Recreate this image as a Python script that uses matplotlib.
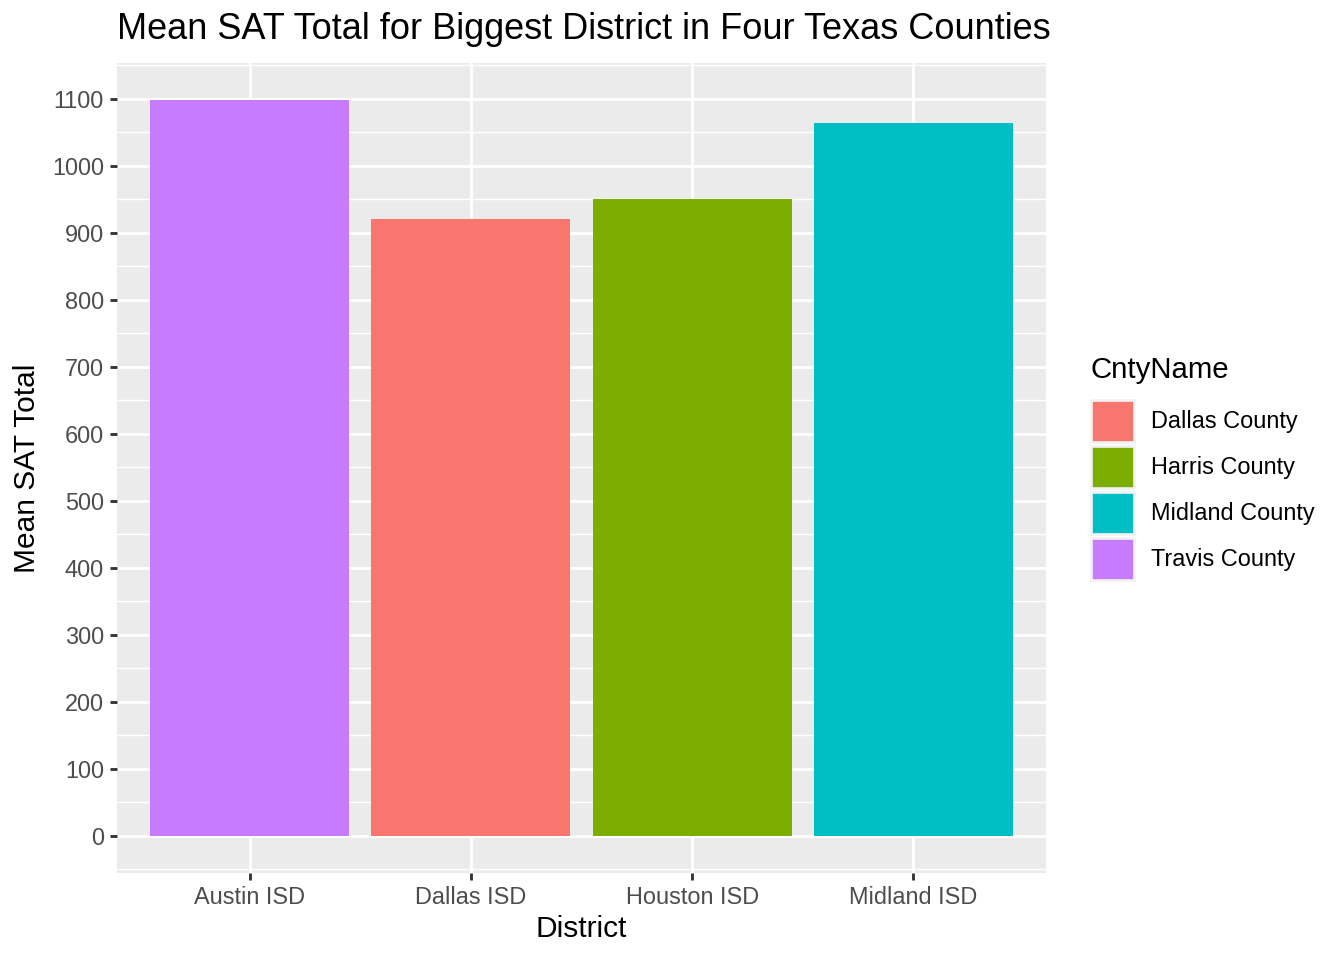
import numpy as np
import matplotlib.pyplot as plt
from matplotlib.patches import Patch
from matplotlib.ticker import MultipleLocator, FixedLocator

plt.rcParams['font.family'] = ['Liberation Sans', 'DejaVu Sans']

# data
districts = ["Austin ISD", "Dallas ISD", "Houston ISD", "Midland ISD"]
counties = ["Travis County", "Dallas County", "Harris County", "Midland County"]
mean_sat = [1098, 921, 951, 1064]

legend_order = ["Dallas County", "Harris County", "Midland County", "Travis County"]
county_colors = {"Dallas County": "#F8766D", "Harris County": "#7CAE00",
                 "Midland County": "#00BFC4", "Travis County": "#C77CFF"}

fig = plt.figure(figsize=(7, 5), dpi=192)
ax = fig.add_axes([117/1344, (960-872.5)/960, (1046-117)/1344, (872.5-63.3)/960])
ax.set_facecolor("#EBEBEB")

x = np.arange(1, len(districts) + 1)
ax.bar(x, mean_sat, width=0.9, color=[county_colors[c] for c in counties], zorder=3)

ax.set_xlim(0.4, len(districts) + 0.6)
span = max(mean_sat)
ax.set_ylim(-0.05 * span, span * 1.05)
ax.set_xticks(x)
ax.set_xticklabels(districts)
ax.yaxis.set_major_locator(MultipleLocator(100))
ax.yaxis.set_minor_locator(FixedLocator(np.arange(-50, 1200, 100)))

ax.grid(which='major', color='white', linewidth=1.07, zorder=0)
ax.grid(which='minor', axis='y', color='white', linewidth=0.53, zorder=0)
ax.set_axisbelow(True)
for s in ax.spines.values():
    s.set_visible(False)
ax.tick_params(which='major', length=2.75, width=1.07, color='#333333',
               labelcolor='#4D4D4D', labelsize=8.8, pad=2.2)
ax.tick_params(which='minor', length=0)

ax.set_xlabel("District", fontsize=11.2, labelpad=2.5)
ax.set_ylabel("Mean SAT Total", fontsize=11.2, labelpad=4)
ax.set_title("Mean SAT Total for Biggest District in Four Texas Counties",
             loc='left', fontsize=13.55, pad=9)

# legend
fig.text(1091/1344, 1 - 370/960, "CntyName", fontsize=11, va='center', ha='left')
handles = [Patch(facecolor=county_colors[c], edgecolor='#F2F2F2', linewidth=1.0)
           for c in legend_order]
fig.legend(handles, legend_order, loc='upper left',
           bbox_to_anchor=(1091/1344, 1 - 400/960), frameon=False,
           fontsize=8.8, handlelength=1.85, handleheight=2.38,
           labelspacing=0.17, handletextpad=0.7,
           borderaxespad=0, borderpad=0)

fig.savefig("out.png", dpi=192)
